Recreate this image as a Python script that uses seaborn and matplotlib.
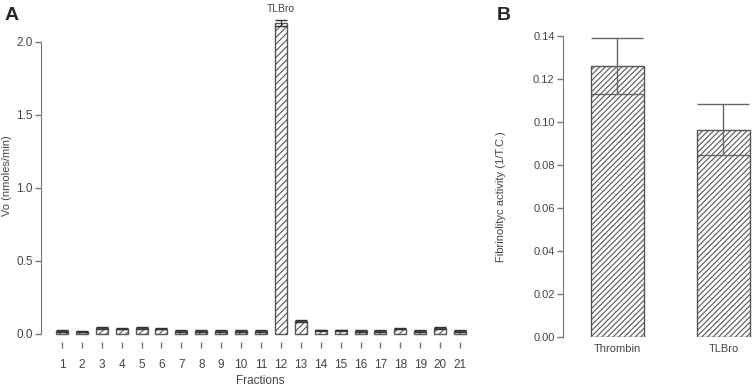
import matplotlib
matplotlib.use("Agg")
import matplotlib.pyplot as plt
import seaborn as sns
import numpy as np

# Panel A data
fractions = [str(i) for i in range(1, 22)]
vo = [0.02, 0.015, 0.04, 0.035, 0.04, 0.035, 0.02, 0.02, 0.02, 0.02, 0.02,
      2.13, 0.09, 0.025, 0.025, 0.02, 0.02, 0.035, 0.02, 0.04, 0.02]
vo_err = [0.004, 0.004, 0.005, 0.004, 0.006, 0.004, 0.004, 0.004, 0.004, 0.004, 0.004,
          0.02, 0.008, 0.004, 0.004, 0.005, 0.005, 0.004, 0.004, 0.006, 0.004]

# Panel B data
samples = ["Thrombin", "TLBro"]
activity = [0.126, 0.0965]
activity_err = [0.013, 0.012]

sns.set_style("white")
plt.rcParams['font.family'] = ['Liberation Sans', 'DejaVu Sans']
plt.rcParams['hatch.color'] = '#777777'
plt.rcParams['hatch.linewidth'] = 0.8

axis_col = '#777777'
text_col = '#444444'

fig = plt.figure(figsize=(7.54, 3.89), dpi=100)
W, H = 754, 389

def place(x0, x1, y_top, y_bot):
    return [x0 / W, 1 - y_bot / H, (x1 - x0) / W, (y_bot - y_top) / H]

# ---- Panel A ----
axA = fig.add_axes(place(41, 480, 5.5, 342.0))
sns.barplot(x=fractions, y=vo, color='white', edgecolor='#555555',
            linewidth=1.0, width=0.6, ax=axA)
for p in axA.patches:
    p.set_hatch('/////')
axA.errorbar(range(len(vo)), vo, yerr=vo_err, fmt='none', ecolor='#333333',
             elinewidth=0.8, capsize=4, capthick=1.0)
axA.set_xlim(-1.05, 21.0)
axA.set_ylim(-0.055, 2.25)
axA.set_yticks([0.0, 0.5, 1.0, 1.5, 2.0])
axA.set_yticklabels(['0.0', '0.5', '1.0', '1.5', '2.0'])
for s in ['top', 'right', 'bottom']:
    axA.spines[s].set_visible(False)
axA.spines['left'].set_color(axis_col)
axA.spines['left'].set_bounds(0, 2.0)
axA.tick_params(axis='y', length=4, width=1, color=axis_col, labelcolor=text_col,
                labelsize=8.5, pad=2, left=True)
axA.tick_params(axis='x', length=4, width=1, color=axis_col, labelcolor=text_col,
                labelsize=8.5, pad=8, bottom=True, direction='out')
axA.set_xlabel('Fractions', fontsize=8.5, color=text_col, labelpad=3)
axA.set_ylabel('Vo (nmoles/min)', fontsize=8, color=text_col)
axA.yaxis.set_label_coords((12 - 41) / 439, (342 - 176) / 336.5)
axA.text(11, 2.19, 'TLBro', ha='center', va='bottom', fontsize=7.5, color=text_col)

# ---- Panel B ----
axB = fig.add_axes(place(563, 754, 25.25, 337))
sns.barplot(x=samples, y=activity, color='white', edgecolor='#555555',
            linewidth=1.0, width=0.5, ax=axB)
for p in axB.patches:
    p.set_hatch('//////')
axB.errorbar(range(len(activity)), activity, yerr=activity_err, fmt='none',
             ecolor='#666666', elinewidth=1.0, capsize=19, capthick=1.0)
axB.set_xlim(-0.514, 1.288)
axB.set_ylim(0, 0.145)
axB.set_yticks(np.arange(0, 0.141, 0.02))
axB.set_yticklabels([f'{v:.2f}' for v in np.arange(0, 0.141, 0.02)])
for s in ['top', 'right', 'bottom']:
    axB.spines[s].set_visible(False)
axB.spines['left'].set_color(axis_col)
axB.spines['left'].set_bounds(0, 0.14)
axB.tick_params(axis='y', length=4, width=1, color=axis_col, labelcolor=text_col,
                labelsize=8, pad=2, left=True)
axB.tick_params(axis='x', length=0, labelcolor=text_col, labelsize=8, pad=5)
axB.set_xlabel('')
axB.set_ylabel('Fibrinolityc activity (1/T.C.)', fontsize=8, color=text_col)
axB.yaxis.set_label_coords((506 - 563) / 191, (337 - 197) / 311.75)

fig.text(5 / W, 1 - 16 / H, 'A', fontsize=14, fontweight='bold', va='center', ha='left')
fig.text(497 / W, 1 - 16 / H, 'B', fontsize=14, fontweight='bold', va='center', ha='left')

fig.savefig('out.png', dpi=100)
